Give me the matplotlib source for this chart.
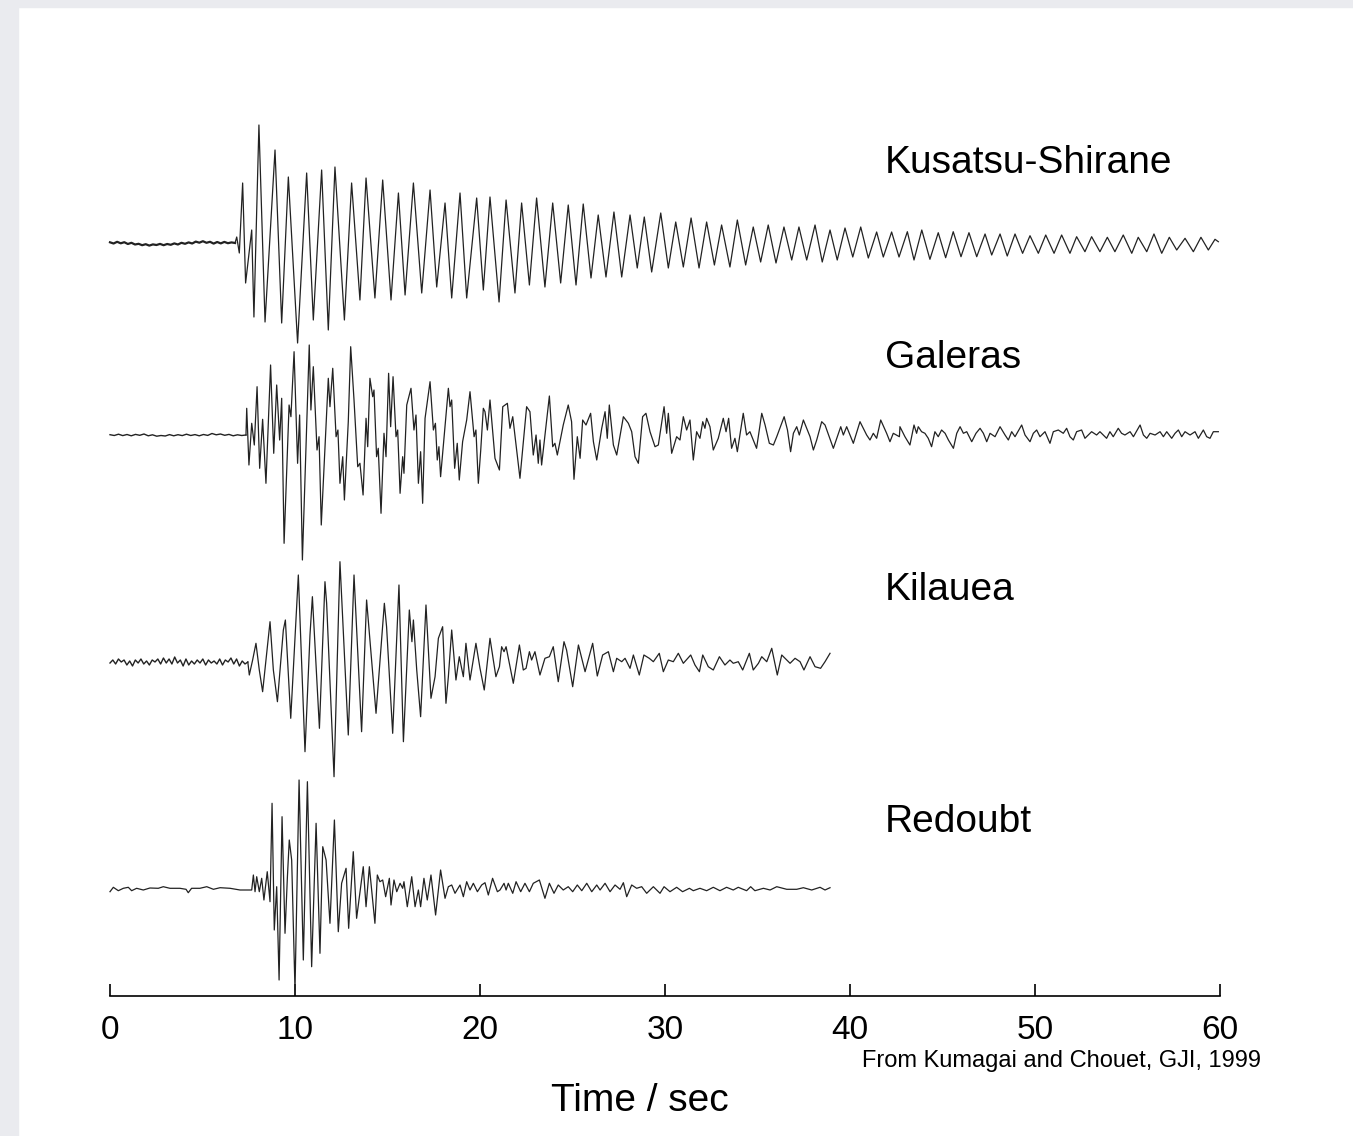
import matplotlib.pyplot as plt
from matplotlib.patches import Rectangle
import numpy as np

# station names and where the traces sit (baseline height, axes units)
stations = ['Kusatsu-Shirane', 'Galeras', 'Kilauea', 'Redoubt']
xticks = [0, 10, 20, 30, 40, 50, 60]

kus_noise = [0.7, -0.5, 1.2, -0.3, 0.8, -1.0, 0.2, -1.5, -0.8, -2.2, -1.2, -2.6, -1.4, -2.0, -0.9, -2.2,
             -1.0, -1.8, -0.4, -1.5, 0.2, -0.8, 0.6, -0.5, 1.4, 0.3, 1.8, 0.2, 1.2, -0.6, 1.0, -0.4,
             1.1, -0.2, 0.6, 0.0]
gal_noise = [0.3, -0.5, 0.8, -0.6, 0.5, -0.8, 0.6, -0.3, 1.0, -0.8, 0.2, -1.2, -0.5, -1.0, 0.4, -0.8,
             0.3, -0.6, 0.8, -0.5, 0.4, -0.8, 0.5, -0.4, 1.5, 0.2, 1.0, -0.3, 0.6, -0.8, 0.2, -0.5, 0.0]
kil_noise = [-1, 2, -2, 3, 0, 2, -3, 1, -4, 2, -1, 3, -2, 1, -3, 2, 0, 3, -2, 4, -1, 3, -2, 5, -1, 2,
             -4, 3, -3, 1, -2, 2, -1, 3, -3, 2, -1, 1, -2, 3, -3, 2, 0, 4, -2, 3, -4, 1, -2, 0]
onsets = [6.76, 7.35, 7.45]

# turning points after the onset: time (s) and amplitude
kus_t = [6.85, 6.99, 7.17, 7.33, 7.66, 7.78, 8.05, 8.38, 8.92, 9.28, 9.64, 10.14, 10.63, 10.99, 11.44, 11.80,
         12.16, 12.67, 13.06, 13.51, 13.84, 14.32, 14.74, 15.19, 15.59, 15.95, 16.40, 16.85, 17.30, 17.66,
         18.11, 18.47, 18.92, 19.28, 19.82, 20.18, 20.54, 21.03,
         21.41, 21.89, 22.25, 22.67, 23.06, 23.51, 23.93, 24.36, 24.77, 25.19, 25.58, 26.00, 26.39, 26.81,
         27.24, 27.66, 28.11, 28.50, 28.88, 29.28, 29.77, 30.18, 30.58, 30.99, 31.41, 31.84, 32.25, 32.67,
         33.06, 33.51, 33.91, 34.36, 34.77, 35.17, 35.58, 36.00, 36.43, 36.85, 37.24, 37.66, 38.11, 38.50,
         38.92, 39.31, 39.73, 40.15, 40.58, 40.99, 41.44, 41.80, 42.25, 42.65,
         43.10, 43.46, 43.88, 44.32, 44.77, 45.17, 45.58, 46.00, 46.43, 46.85, 47.30, 47.66, 48.11, 48.50,
         48.92, 49.33, 49.73, 50.18, 50.58, 51.03, 51.44, 51.89, 52.25, 52.70, 53.06, 53.51, 53.91, 54.32,
         54.77, 55.23, 55.58, 56.04, 56.43, 56.85, 57.26, 57.66, 58.11, 58.56, 58.97, 59.37, 59.73, 59.91]
kus_a = [6, -10, 60, -40, 13, -74, 118, -79, 93, -80, 66, -100, 70, -77, 73, -87,
         76, -77, 60, -57, 65, -55, 63, -57, 50, -52, 60, -50, 53, -44,
         40, -55, 50, -55, 45, -47, 46, -59,
         43, -50, 40, -42, 45, -44, 40, -40, 38, -42, 39, -35, 28, -34,
         31, -34, 28, -25, 26, -29, 30, -25, 21, -24, 25, -25, 21, -22,
         18, -24, 23, -22, 16, -19, 18, -20, 16, -17, 16, -17, 18, -19,
         13, -17, 15, -14, 16, -15, 11, -14, 11, -14,
         11.3, -17, 13, -16.3, 10.3, -14.7, 11.3, -13.7, 10.3, -13.7, 9, -12, 9, -13,
         9, -10.3, 7.3, -10.3, 8, -10.3, 8, -10.3, 6.3, -8.7, 6.3, -8.7, 5.7, -8.7,
         8, -10.3, 5.7, -8.7, 9, -10.3, 5.7, -7, 4.7, -8.7, 5.7, -7, 3.7, 1.3]

gal_t = [7.39, 7.51, 7.66, 7.80, 7.95, 8.09, 8.25, 8.43, 8.68, 8.85, 9.01, 9.17, 9.28, 9.41, 9.68, 9.78,
         9.95, 10.14, 10.25, 10.40, 10.77, 10.86, 10.99, 11.19, 11.30, 11.42, 11.80, 11.89, 12.04, 12.22,
         12.32, 12.43, 12.58, 12.67, 12.88, 13.01, 13.19, 13.39, 13.51, 13.68, 13.84, 13.93, 14.05, 14.20,
         14.27, 14.41, 14.50, 14.65, 14.81, 14.92, 15.06, 15.17, 15.30, 15.46, 15.55, 15.68, 15.82, 15.89,
         16.04, 16.27, 16.43, 16.54, 16.67, 16.79, 16.90, 17.03, 17.30, 17.48, 17.59, 17.69, 17.78, 17.87,
         18.02, 18.29, 18.38, 18.47, 18.63, 18.77, 18.88, 19.06, 19.28, 19.46, 19.68, 19.78, 19.91, 20.04,
         20.18, 20.27, 20.40, 20.54, 20.81, 21.05,
         21.23, 21.48, 21.62, 21.77, 22.16, 22.52, 22.70, 22.88, 23.03, 23.15, 23.24, 23.33, 23.75, 23.93,
         24.05, 24.18, 24.50, 24.77, 24.95, 25.08, 25.26, 25.41, 25.55, 25.73, 25.98, 26.13, 26.31, 26.58,
         26.76, 26.88, 26.99, 27.21, 27.39, 27.75, 28.02, 28.20, 28.38, 28.56, 28.79, 28.97, 29.19, 29.46,
         29.64, 29.95, 30.09, 30.18, 30.36, 30.63, 30.81, 30.99, 31.17, 31.35, 31.53, 31.71, 31.89, 32.04,
         32.16, 32.25, 32.43, 32.61, 32.88, 33.15, 33.30, 33.44, 33.60, 33.78, 33.91, 34.23, 34.41, 34.59,
         34.95, 35.23, 35.41, 35.64, 35.86, 36.04, 36.44, 36.62, 36.79, 36.94, 37.12, 37.26, 37.48, 37.84,
         38.02, 38.20, 38.47, 38.65, 39.10, 39.50, 39.64, 39.82, 40.18, 40.54, 40.90, 41.08, 41.26, 41.44,
         41.66, 41.98, 42.16, 42.34, 42.67,
         42.70, 42.97, 43.24, 43.46, 43.60, 43.69, 43.87, 44.05, 44.23, 44.41, 44.59, 44.77, 44.95, 45.14,
         45.32, 45.59, 45.77, 45.95, 46.13, 46.31, 46.58, 46.81, 47.03, 47.21, 47.39, 47.57, 47.84, 48.11,
         48.38, 48.56, 48.74, 48.92, 49.28, 49.46, 49.73, 49.91, 50.09, 50.27, 50.54, 50.81, 50.99, 51.26,
         51.53, 51.71, 51.89, 52.07, 52.25, 52.52, 52.70, 52.88, 53.06, 53.33, 53.51, 53.87, 54.05, 54.23,
         54.50, 54.68, 54.86, 55.14, 55.32, 55.68, 55.86, 56.04, 56.22, 56.49, 56.76, 56.94, 57.12, 57.39,
         57.57, 57.75, 57.93, 58.11, 58.38, 58.65, 58.83, 59.10, 59.28, 59.46, 59.64, 59.91]
gal_a = [26.7, -30, 11.7, -10, 48.3, -33.3, 15.7, -48.3, 70, -18.3, 50, -5, 36.7, -108.3, 30, 18.3,
         83.3, -28.3, 20, -125, 90, 25, 68.3, -15, -1.7, -90, 56.7, 28.3, 66.7, -1.7,
         5, -48.3, -21.7, -65, 13.3, 88.3, 35, -31.7, -28.3, -60, 16.7, -11.7, 56.7, 38.3,
         45, -21.7, -13.3, -78.3, 1.7, -21.7, 61.7, 8.3, 58.3, -1.7, 5, -58.3, -21.7, -38.3,
         30, 46.7, 5, 20, -48.3, -16.7, -68.3, 16.7, 53.3, 5, 11.7, -25, -11.7, -41.7,
         -10, 46.7, 28.3, 35, -33.3, -8.3, -45, -6.7, 15, 43.3, -1.7, 5, -48.3, -15,
         26.7, 23.3, 5, 35, -23.3, -35,
         28.3, 31.7, 6.7, 18.3, -43.3, 28.3, 23.3, -20, 0, -28.3, -5, -30, 39, -11.7,
         -8.3, -20, 10, 30, 13.3, -44.3, -1.7, -23.3, 15, 10, 21.7, -6.7, -25, 6.7,
         23.3, -3.3, 30, -10, -20, 18.3, 11.7, 3.3, -21.7, -28.3, 18.3, 21.7, 3.3, -11.7,
         -10, 28.3, 1.7, 21.7, -18.3, -1.7, -5, 18.3, 5, 15, -25, 3.3, -3.3, 13.3,
         6.7, 16.7, 8.3, -15, -3.3, 16.7, 3.3, 16.7, -13.3, -3.3, -16.7, 21.7, 0, 3.3,
         -13.3, 21.7, 10, -8.3, -10, -1.7, 18.3, 5, -16.7, 1.7, 8.3, 0, 15, -1.7,
         -15, -5, 13.3, 10, -13.3, 8.3, 0, 8.3, -8.3, 13.3, 0, -5, 1.7, -3.3,
         15, 1.7, -6.7, 1.7, -1.7,
         8.3, -1.7, -10, 10, 1.7, 8.3, 3.3, 1.7, -3.3, -11.7, 3.3, -1.7, 5, 1.7,
         -5, -13.3, 1.7, 8.3, 1.7, 3.3, -6.7, 1.7, 6.7, 1.7, -6.7, 1.7, -1.7, 8.3,
         0, -5, 3.3, -1.7, 10, 0, -6.7, 1.7, 5, -1.7, 3.3, -8.3, 3.3, 5,
         1.7, 6.7, -1.7, -5, 3.3, 5, -3.3, 0, 3.3, 0, 3.3, -3.3, 3.3, -1.7,
         6.7, 1.7, 0, 3.3, -1.7, 10, 0, -3.3, 1.7, 0, 3.3, -1.7, 3.3, -3.3,
         1.7, 5, -1.7, 3.3, 0, 3.3, -3.3, 5, -1.7, -3.3, 3.3, 3.3]

kil_t = [7.53, 7.71, 7.89, 8.07, 8.25, 8.65, 8.83, 9.05, 9.37, 9.48, 9.77, 10.18, 10.54, 10.81, 10.94, 11.32,
         11.62, 11.71, 12.11, 12.43, 12.88, 13.19, 13.60, 13.87, 14.38, 14.83, 14.95, 15.28, 15.62, 15.86,
         16.18, 16.32, 16.40, 16.58, 16.79, 17.08, 17.35, 17.57, 17.75, 17.98, 18.16, 18.29, 18.47, 18.70,
         18.88, 19.10, 19.24, 19.46, 19.78, 20.00, 20.23, 20.54, 20.72, 20.86, 21.05,
         21.17, 21.30, 21.41, 21.80, 22.13, 22.34, 22.49, 22.67, 22.79, 22.97, 23.24, 23.51, 23.75, 23.96,
         24.23, 24.54, 24.68, 25.01, 25.32, 25.68, 26.09, 26.34, 26.63, 26.94, 27.21, 27.39, 27.66, 27.84,
         28.11, 28.29, 28.61, 28.86, 29.15, 29.37, 29.69, 29.91, 30.18, 30.45, 30.72, 30.99, 31.39, 31.62,
         31.86, 32.04, 32.34, 32.61, 32.94, 33.24, 33.51, 33.69, 33.96, 34.20, 34.56, 34.77, 35.05, 35.23,
         35.50, 35.77, 36.07, 36.31, 36.76, 37.03, 37.30, 37.51, 37.84, 38.11, 38.41, 38.65, 38.92]
kil_a = [-13, 2, 18.7, -8, -29.7, 40.3, -8, -39.7, 32, 42, -56.3, 87, -89.7, 27, 65.3, -66.3,
         80.3, 58.7, -114.7, 100.3, -73, 87, -69.7, 62, -51.3, 58.7, 35.3, -71.3, 77, -79.7,
         52, 20.3, 42, -8, -54.7, 57, -36.3, -14.7, 23.7, 35.3, -41.3, -14.7, 32, -18,
         5.3, -14.7, 18.7, -18, 18.7, -6.3, -28, 23.7, 2, -14.7, -4.7,
         15.3, 10.3, 15.3, -21.3, 17, -8, -6.3, 10.3, 2, 10.3, -13, 3.7, 5.3, 15.3,
         -19.7, 20.3, 12, -24.7, 17, -9.7, 18.7, -14, 7, 10.3, -9.7, 3.7, 0.3, 3.7,
         -6.3, 7, -13, 7, 3.7, 0.3, 8.7, -9.7, 2, 0.3, 8.7, -1.3, 7, -3,
         -9.7, 7, -4.7, -8, 5.3, -3, 2, -1.3, 0.3, -8, 8.7, -8, -1.3, 5.3,
         0.3, 13.7, -13, 7, -1.3, 3.7, 0.3, -8, 5.3, -4.7, -6.3, 0.3, 8.7]

red_t = [0.00, 0.18, 0.45, 0.72, 0.99, 1.17, 1.44, 1.80, 2.16, 2.61, 2.88, 3.24, 3.78, 4.11, 4.23, 4.41,
         4.86, 5.23, 5.59, 5.95, 6.49, 7.03, 7.66,
         7.75, 7.84, 7.93, 8.07, 8.20, 8.32, 8.50, 8.65, 8.76, 8.88, 9.01, 9.14, 9.30, 9.46, 9.59, 9.69,
         9.82, 10.00, 10.22, 10.45, 10.67, 10.90, 11.14, 11.35, 11.50, 11.68, 11.89, 12.13, 12.34, 12.52,
         12.76, 12.90, 13.15, 13.33, 13.69, 13.84, 14.02, 14.32, 14.45, 14.59, 14.74, 14.90, 15.10, 15.19,
         15.35, 15.50, 15.68, 15.82, 15.89, 16.07, 16.31, 16.49, 16.67, 16.79, 16.97, 17.15, 17.35, 17.60,
         17.87, 18.11, 18.29, 18.47, 18.65, 18.92, 19.10, 19.28, 19.46, 19.64, 19.86, 20.09, 20.27, 20.45,
         20.68, 20.94,
         21.08, 21.30, 21.41, 21.53, 21.77, 21.95, 22.20, 22.43, 22.67, 22.88, 23.21, 23.51, 23.75, 24.00,
         24.23, 24.50, 24.77, 25.01, 25.26, 25.50, 25.77, 26.04, 26.31, 26.49, 26.76, 27.03, 27.30, 27.57,
         27.75, 27.93, 28.20, 28.47, 28.74, 29.01, 29.37, 29.73, 29.95, 30.27, 30.63, 30.95, 31.32, 31.53,
         31.89, 32.25, 32.61, 32.97, 33.33, 33.69, 33.96, 34.41, 34.63, 34.86, 35.32, 35.68, 36.04, 36.58,
         37.12, 37.48, 37.93, 38.38, 38.65, 38.92]
red_a = [-2.7, 1.7, -1.7, 0.7, 1.7, -1.7, 0.7, -1, 1, 0.7, 2.3, 0.7, 0.7, -0.3, -3.7, 0.7,
         0.7, 2.3, -0.3, 1.3, 0.7, -1, -1,
         14, -2.7, 12.3, -2.7, 10.7, -11, 17.3, -12.7, 85.7, -41, 2.3, -91, 72.3, -44.3, 12.3, 49,
         29, -101, 109, -71, 107.3, -77.7, 65.7, -64.3, 42.3, 29, -34.3, 69, -42.7, 5.7,
         20.7, -39.3, 37.3, -29.3, 22.3, -17.7, 22.3, -34.3, 14, 7.3, 9, -7.7, 10.7, -16,
         9, -2.7, 5.7, 0.7, 7.3, -17.7, 12.3, -17.7, -1, -17.7, 10.7, -11, 14, -26,
         19, -9.3, 2.3, 4, -4.3, 4, -7.7, 7.3, -1, 5.7, -2.7, 4, 6.3, -6,
         10.7, -2.7,
         -1, 5.7, -1, 5.7, -4.3, 7.3, -2.7, 5.7, -2.7, 5.7, 9, -9.3, 5.7, -4.3,
         4, -1, 2.3, -2.7, 4, -1.7, 5.7, -2.7, 4, -1, 5.7, -2.7, 4, -0.3,
         6.3, -7.7, 4, 0.7, 2.3, -4.3, 2.3, -4.3, 2.3, -2.7, 1.7, -2.7, 0.7, -1.7,
         0.7, -1.7, 1.7, -1.7, 1.7, -1, 1.7, -1.7, 2.3, -1.7, 0.7, -1, 2.3, -0.3,
         -0.3, 1.3, -1, 1.7, -1, 1.3]

baselines = [753, 561, 334, 107]
label_y = [173, 368, 600, 832]  # text baselines, pixels from top

W, H = 1353, 1136
fig = plt.figure(figsize=(W / 100, H / 100), dpi=100)
fig.patch.set_facecolor('white')
fig.patches.append(Rectangle((0, 0), 18 / W, 1, transform=fig.transFigure, color='#eaebef', zorder=0))
fig.patches.append(Rectangle((0, 1 - 7 / H), 1, 7 / H, transform=fig.transFigure, color='#eaebef', zorder=0))

ax = fig.add_axes([110 / W, (H - 996) / H, 1110 / W, 900 / H])
ax.set_xlim(0, 60)
ax.set_ylim(0, 900)

ink = '#222222'
noises = [kus_noise, gal_noise, kil_noise]
noise_lw = [1.6, 1.0, 1.0]
events = [(kus_t, kus_a), (gal_t, gal_a), (kil_t, kil_a)]
for i in range(3):
    nt = np.linspace(0, onsets[i], len(noises[i]))
    ax.plot(nt, baselines[i] + np.array(noises[i]), color=ink, lw=noise_lw[i], clip_on=False)
    t = np.concatenate([[onsets[i]], events[i][0]])
    a = np.concatenate([[noises[i][-1]], events[i][1]])
    ax.plot(t, baselines[i] + a, color=ink, lw=0.9, clip_on=False)
ax.plot(red_t, baselines[3] + np.array(red_a), color=ink, lw=0.9, clip_on=False)

for name, yl in zip(stations, label_y):
    fig.text(885 / W, 1 - yl / H, name, fontsize=28, family='Liberation Sans', va='baseline', ha='left')

for s in ['top', 'left', 'right']:
    ax.spines[s].set_visible(False)
ax.spines['bottom'].set_linewidth(1.2)
ax.set_yticks([])
ax.set_xticks(xticks)
ax.tick_params(axis='x', direction='in', length=9, width=1.2, pad=14, labelsize=24)
for lab in ax.get_xticklabels():
    lab.set_family('Liberation Sans')

fig.text(640 / W, 1 - 1111 / H, 'Time / sec', fontsize=28, family='Liberation Sans', ha='center', va='baseline')
fig.text(862 / W, 1 - 1067 / H, 'From Kumagai and Chouet, GJI, 1999', fontsize=17,
         family='Liberation Sans', ha='left', va='baseline')

fig.savefig('out.png', dpi=100)
